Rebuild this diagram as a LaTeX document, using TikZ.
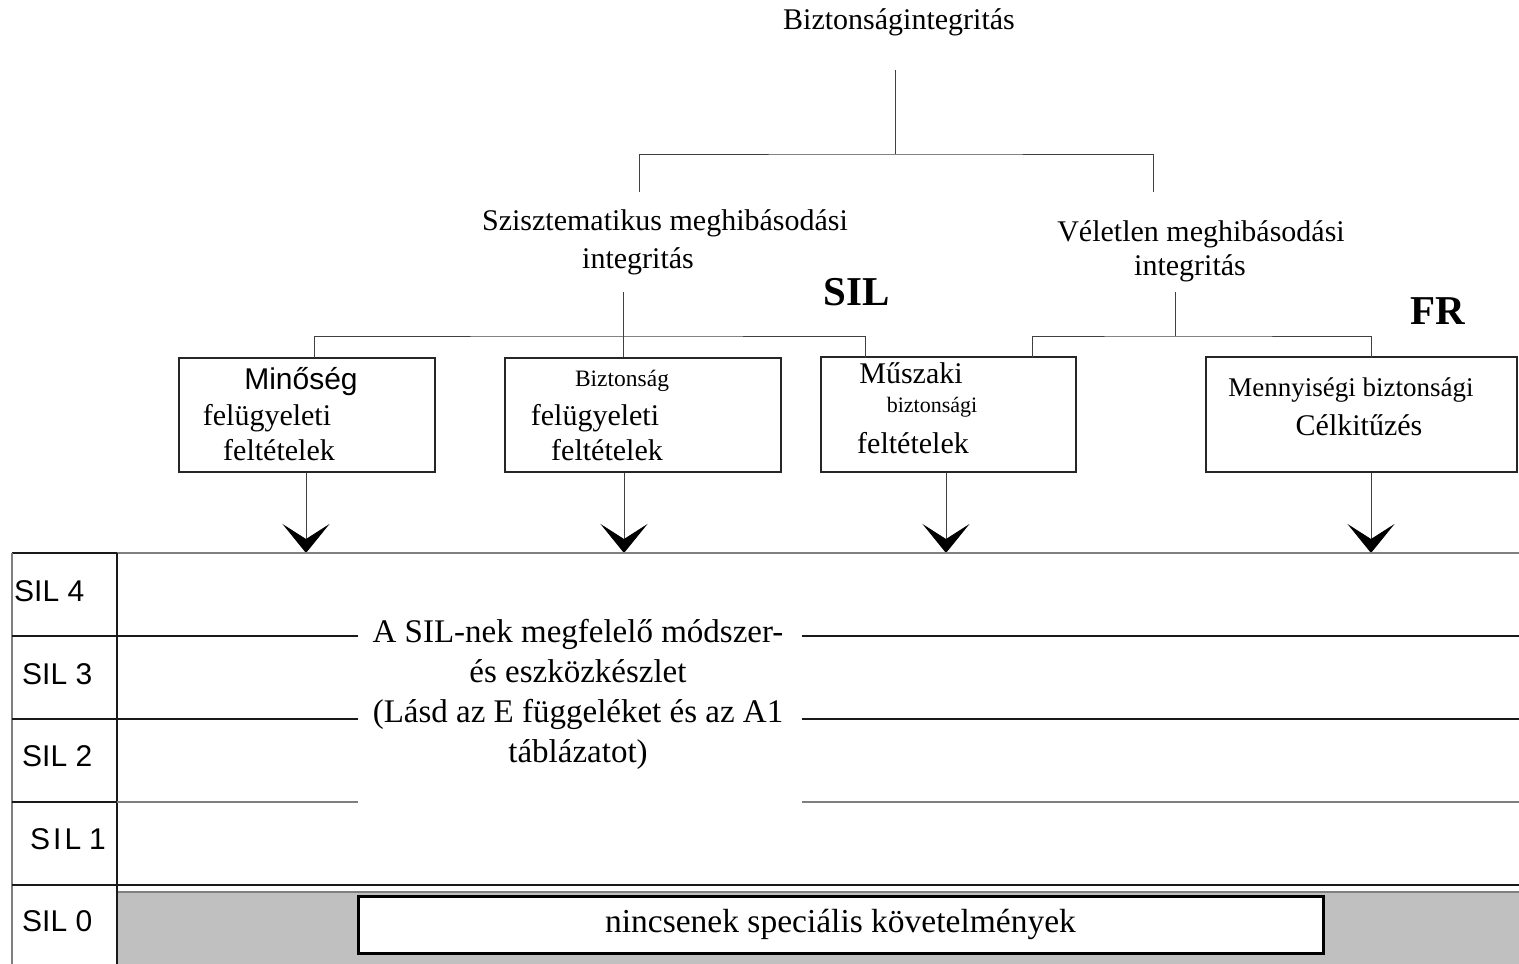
\documentclass[tikz,border=0pt]{standalone}
\usepackage{fontspec}
\setmainfont{Liberation Serif}
\setsansfont{Liberation Sans}
\usetikzlibrary{arrows.meta}
\definecolor{rule}{HTML}{7F7F7F}
\definecolor{band}{HTML}{C0C0C0}
\begin{document}
\begin{tikzpicture}[x=1pt,y=-1pt,
  txt/.style={inner sep=0pt, font=\fontsize{30}{36}\selectfont},
  bold/.style={inner sep=0pt, font=\fontsize{41}{44}\selectfont\bfseries},
  sans/.style={inner sep=0pt, font=\sffamily\fontsize{30}{34}\selectfont},
  silcell/.style={inner sep=0pt, anchor=west, font=\sffamily\fontsize{30}{34}\selectfont},
  reqbox/.style={draw=black!85, line width=1.2pt, inner sep=0pt},
  tree/.style={draw=black!75, line width=1pt},
  down/.style={draw=black!75, line width=1pt, -{Stealth[length=29pt,width=47pt,inset=15pt,color=black]}},
  blackrule/.style={draw=black!90, line width=1.4pt},
  grayrule/.style={draw=rule, line width=1.6pt}
]
\useasboundingbox (0,0) rectangle (1519,964);

% ---------- tree of integrity concepts ----------
\node[txt] (root)  at (899,22)   {Biztonságintegritás};
\node[txt] (sys)   at (665,223)  {Szisztematikus meghibásodási};
\node[txt] (sysb)  at (638,261)  {integritás};
\node[txt] (rand)  at (1201,234) {Véletlen meghibásodási};
\node[txt] (randb) at (1190,268) {integritás};
\node[bold] (sil)  at (857,292)  {SIL};
\node[bold] (fr)   at (1438,311) {FR};

\coordinate (r0) at (895,70);
\coordinate (r1) at (895,154);
\coordinate (rl) at (639,192);
\coordinate (rr) at (1153,192);
\draw[tree] (r0) -- (r1);
\draw[tree] (rl) |- (r1) -| (rr);

% ---------- requirement boxes ----------
\node[reqbox, minimum width=256pt, minimum height=114pt] (b1) at (307,415) {};
\node[reqbox, minimum width=276pt, minimum height=114pt] (b2) at (643,415) {};
\node[reqbox, minimum width=255pt, minimum height=115pt] (b3) at (948.5,414.5) {};
\node[reqbox, minimum width=311pt, minimum height=115pt] (b4) at (1361.5,414.5) {};

\node[sans]  (b1a) at (301,382) {Minőség};
\node[txt]   (b1b) at (267,418) {felügyeleti};
\node[txt]   (b1c) at (279,450) {feltételek};

\node[txt, font=\fontsize{23.5}{26}\selectfont] (b2a) at (622,381) {Biztonság};
\node[txt]   (b2b) at (595,418) {felügyeleti};
\node[txt]   (b2c) at (607,450) {feltételek};

\node[txt]   (b3a) at (911,373) {Műszaki};
\node[txt, font=\fontsize{22}{26}\selectfont] (b3b) at (932,407) {biztonsági};
\node[txt]   (b3c) at (913,443) {feltételek};

\node[txt, font=\fontsize{27}{30}\selectfont] (b4a) at (1351,390) {Mennyiségi biztonsági};
\node[txt]   (b4b) at (1359,425) {Célkitűzés};

% branch of the systematic integrity
\coordinate (s0) at (623,292);
\coordinate (sj) at (623,336);
\coordinate (sl) at (314,358);
\coordinate (sr) at (865,358);
\draw[tree] (s0) -- (s0 |- b2.north);
\draw[tree] (sl) |- (sj) -| (sr);

% branch of the random integrity
\coordinate (v0) at (1175,292);
\coordinate (vj) at (1175,336);
\coordinate (vl) at (1032,358);
\coordinate (vr) at (1371,358);
\draw[tree] (v0) -- (vj);
\draw[tree] (vl) |- (vj) -| (vr);

% arrows into the SIL table
\coordinate (t1) at (306,553);
\coordinate (t2) at (624,553);
\coordinate (t3) at (946,553);
\coordinate (t4) at (1371,553);
\draw[down] (b1.south -| t1) -- (t1);
\draw[down] (b2.south -| t2) -- (t2);
\draw[down] (b3.south -| t3) -- (t3);
\draw[down] (b4.south -| t4) -- (t4);

% ---------- SIL table ----------
\fill[band] (117,892) rectangle (1519,964);
\draw[grayrule] (117,892) -- (1519,892);
\draw[grayrule] (117,553) -- (1519,553);
\draw[blackrule] (12,553) -- (117,553);
\draw[grayrule] (12,553) -- (12,964);
\draw[blackrule] (117,553) -- (117,964);

\draw[blackrule] (12,636) -- (358,636);
\draw[blackrule] (802,636) -- (1519,636);
\draw[blackrule] (12,719) -- (358,719);
\draw[blackrule] (802,719) -- (1519,719);
\draw[blackrule] (12,802) -- (117,802);
\draw[grayrule] (117,802) -- (358,802);
\draw[grayrule] (802,802) -- (1519,802);
\draw[blackrule] (12,885) -- (1519,885);

\node[silcell] (sil4) at (14,591) {SIL 4};
\node[silcell] (sil3) at (22,674) {SIL 3};
\node[silcell] (sil2) at (22,756) {SIL 2};
\node[silcell] (sil1) at (30,839) {S\kern3pt I\kern3pt L\kern8pt 1};
\node[silcell] (sil0) at (22,921) {SIL 0};

\node[inner sep=0pt, align=center, font=\fontsize{33}{40}\selectfont] (methods) at (578,694)
  {A SIL-nek megfelelő módszer-\\és eszközkészlet\\(Lásd az E függeléket és az A1\\táblázatot)};

\node[draw=black, line width=3pt, fill=white, minimum width=965pt, minimum height=57pt,
      inner sep=0pt, font=\fontsize{33.5}{36}\selectfont] (none) at (840.5,924.5)
  {nincsenek speciális követelmények};
\end{tikzpicture}
\end{document}
